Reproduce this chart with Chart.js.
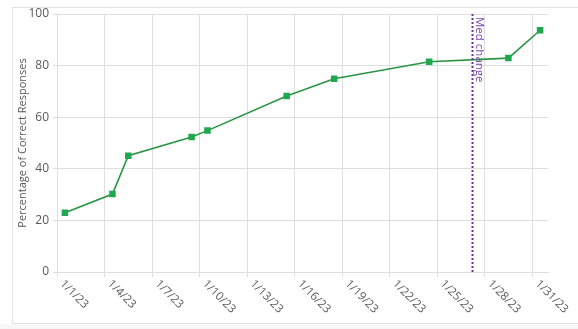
<!DOCTYPE html>
<html>
<head>
<meta charset="utf-8">
<script src="https://cdn.jsdelivr.net/npm/chart.js@4/dist/chart.umd.min.js"></script>
<style>
  html, body { margin: 0; padding: 0; background: #ffffff; }
  #wrap { width: 578px; height: 329px; }
</style>
</head>
<body>
<div id="wrap"><canvas id="chart" width="578" height="329"></canvas></div>
<script>
// Every day of January 2023 is one slot on the date axis
const days = [];
for (let d = 1; d <= 31; d++) days.push('1/' + d + '/23');

// Session dates and percentage of correct responses
const sessionDates = ['1/1/23', '1/4/23', '1/5/23', '1/9/23', '1/10/23', '1/15/23', '1/18/23', '1/24/23', '1/29/23', '1/31/23'];
const correctPct = [23, 30.2, 45.1, 52.3, 54.8, 68.2, 74.9, 81.5, 82.9, 93.7];

// Axis labels are shown every third day
const labelStep = 3;
const yTicks = [0, 20, 40, 60, 80, 100];

// Medication change falls late on 1/26 (position on the day axis)
const medChangeAt = 25.7;
const medChangeText = 'Med change';

const FONT = "'Open Sans', 'Liberation Sans', sans-serif";
const GRID = '#dedede';
const TEXT = '#595959';

const points = sessionDates.map((d, i) => ({ x: d, y: correctPct[i] }));

const framePlugin = {
  id: 'frame',
  beforeDraw(chart) {
    const ctx = chart.ctx;
    ctx.save();
    ctx.fillStyle = '#ffffff';
    ctx.fillRect(0, 0, chart.width, chart.height);
    ctx.fillStyle = '#f7f7f7';
    ctx.fillRect(0, 324, chart.width, chart.height - 324);
    ctx.strokeStyle = '#e3e3e3';
    ctx.lineWidth = 1;
    ctx.strokeRect(12.5, 7.5, chart.width + 10, 316);
    ctx.restore();
  }
};

const dateLabelPlugin = {
  id: 'dateLabels',
  afterDraw(chart) {
    const ctx = chart.ctx;
    const xs = chart.scales.x;
    const bottom = chart.chartArea.bottom;
    ctx.save();
    ctx.font = '11.5px ' + FONT;
    ctx.fillStyle = TEXT;
    ctx.textAlign = 'left';
    ctx.textBaseline = 'middle';
    for (let i = 0; i < days.length; i += labelStep) {
      const x = xs.getPixelForTick(i);
      ctx.save();
      ctx.translate(x - 3, bottom + 10);
      ctx.rotate(Math.PI / 4);
      ctx.fillText(days[i], 0, 0);
      ctx.restore();
    }
    ctx.restore();
  }
};

const medChangePlugin = {
  id: 'medChange',
  afterDatasetsDraw(chart) {
    const ctx = chart.ctx;
    const area = chart.chartArea;
    const x = Math.round(chart.scales.x.getPixelForValue(medChangeAt)) + 0.5;
    ctx.save();
    ctx.strokeStyle = '#7030a0';
    ctx.lineWidth = 2;
    ctx.setLineDash([2, 2]);
    ctx.beginPath();
    ctx.moveTo(x, area.top);
    ctx.lineTo(x, area.bottom);
    ctx.stroke();
    ctx.setLineDash([]);
    ctx.font = '11.5px ' + FONT;
    ctx.fillStyle = '#7a45b0';
    ctx.textAlign = 'left';
    ctx.textBaseline = 'middle';
    ctx.translate(x + 7, area.top + 3);
    ctx.rotate(Math.PI / 2);
    ctx.fillText(medChangeText, 0, 0);
    ctx.restore();
  }
};

new Chart(document.getElementById('chart'), {
  type: 'line',
  data: {
    labels: days,
    datasets: [{
      data: points,
      borderColor: '#2a9445',
      borderWidth: 1.6,
      backgroundColor: '#1fa84f',
      pointStyle: 'rect',
      pointRadius: 4.6,
      pointBorderWidth: 0,
      pointBackgroundColor: '#1fa84f',
      tension: 0,
      fill: false
    }]
  },
  options: {
    responsive: false,
    animation: false,
    devicePixelRatio: 1,
    layout: { padding: { left: 14, top: 14, right: 30, bottom: 52 } },
    plugins: { legend: { display: false }, tooltip: { enabled: false } },
    scales: {
      x: {
        type: 'category',
        offset: true,
        grid: {
          offset: true,
          color: (c) => (c.index % labelStep === 0 ? GRID : 'rgba(0,0,0,0)'),
          tickLength: 5,
          drawTicks: true
        },
        border: { display: true, color: GRID },
        ticks: { display: false },
        afterFit(scale) { scale.height = 5; }
      },
      y: {
        min: 0,
        max: 100,
        afterBuildTicks(scale) { scale.ticks = yTicks.map(v => ({ value: v })); },
        grid: { color: GRID, tickLength: 4 },
        border: { display: false },
        ticks: { color: TEXT, font: { family: FONT, size: 12 }, padding: 4 },
        title: {
          display: true,
          text: 'Percentage of Correct Responses',
          color: TEXT,
          font: { family: FONT, size: 11 },
          padding: { top: 2, bottom: 0 }
        },
        afterFit(scale) { scale.width = 43; }
      }
    }
  },
  plugins: [framePlugin, dateLabelPlugin, medChangePlugin]
});
</script>
</body>
</html>
